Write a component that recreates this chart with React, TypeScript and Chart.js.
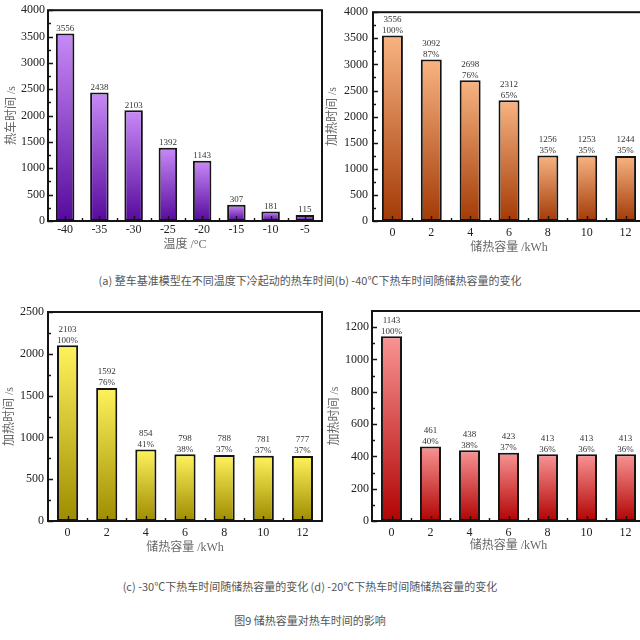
import React, { useEffect, useRef } from "react";
import { Chart, registerables } from "chart.js";

Chart.register(...registerables);

// Warm-up time of the baseline vehicle at different ambient temperatures
const tempCategories = ["-40", "-35", "-30", "-25", "-20", "-15", "-10", "-5"];
const warmupByTemp = [3556, 2438, 2103, 1392, 1143, 307, 181, 115];

// Heat storage capacity (kWh)
const storageCapacity = ["0", "2", "4", "6", "8", "10", "12"];

// -40°C: warm-up time and share of the no-storage case
const warmupMinus40 = [3556, 3092, 2698, 2312, 1256, 1253, 1244];
const shareMinus40 = [100, 87, 76, 65, 35, 35, 35];

// -30°C
const warmupMinus30 = [2103, 1592, 854, 798, 788, 781, 777];
const shareMinus30 = [100, 76, 41, 38, 37, 37, 37];

// -20°C
const warmupMinus20 = [1143, 461, 438, 423, 413, 413, 413];
const shareMinus20 = [100, 40, 38, 37, 36, 36, 36];

// Y-axis tick values
const ticksTo4000 = [0, 500, 1000, 1500, 2000, 2500, 3000, 3500, 4000];
const ticksTo2500 = [0, 500, 1000, 1500, 2000, 2500];
const ticksTo1200 = [0, 200, 400, 600, 800, 1000, 1200];

const SERIF = '"Liberation Serif", "Times New Roman", "Noto Sans CJK SC", serif';
const CAPTION_FONT = '"Noto Sans CJK SC", "Noto Sans", sans-serif';

type Plot = { left: number; top: number; right: number; bottom: number };

type PanelProps = {
  left: number;
  top: number;
  width: number;
  height: number;
  plot: Plot;
  categories: string[];
  values: number[];
  shares?: number[];
  yMax: number;
  yTicks: number[];
  colorTop: string;
  colorBottom: string;
  yTitle: string;
  xTitle: string;
  yTitlePad: number;
  xTitlePad: number;
  xTickPad: number;
  yTickPad: number;
};

function BarPanel(p: PanelProps) {
  const ref = useRef<HTMLCanvasElement | null>(null);

  useEffect(() => {
    if (!ref.current) return;

    const decor = {
      id: "panelDecor",
      afterDatasetsDraw(chart: any) {
        const { ctx, chartArea: a, scales } = chart;
        const xs = scales.x;
        const ys = scales.y;
        ctx.save();
        ctx.strokeStyle = "#141414";
        ctx.lineWidth = 1.4;
        ctx.beginPath();
        // y major / minor ticks, pointing into the plot
        const yt = p.yTicks;
        for (let i = 0; i < yt.length; i++) {
          const py = Math.round(ys.getPixelForValue(yt[i])) + 0.5;
          ctx.moveTo(a.left, py);
          ctx.lineTo(a.left + 5, py);
          if (i < yt.length - 1) {
            const mv = (yt[i] + yt[i + 1]) / 2;
            const my = Math.round(ys.getPixelForValue(mv)) + 0.5;
            ctx.moveTo(a.left, my);
            ctx.lineTo(a.left + 3, my);
          }
        }
        // x major ticks at category centres, minor ticks between them
        const n = p.categories.length;
        for (let i = 0; i < n; i++) {
          const px = Math.round(xs.getPixelForValue(i)) + 0.5;
          ctx.moveTo(px, a.bottom);
          ctx.lineTo(px, a.bottom - 5);
          if (i < n - 1) {
            const mx = Math.round((xs.getPixelForValue(i) + xs.getPixelForValue(i + 1)) / 2) + 0.5;
            ctx.moveTo(mx, a.bottom);
            ctx.lineTo(mx, a.bottom - 3);
          }
        }
        ctx.stroke();

        // plot frame
        ctx.lineWidth = 2;
        ctx.strokeRect(a.left, a.top, a.right - a.left, a.bottom - a.top);

        // value labels above each bar
        const meta = chart.getDatasetMeta(0);
        ctx.fillStyle = "#333";
        ctx.font = `9px ${SERIF}`;
        ctx.textAlign = "center";
        ctx.textBaseline = "middle";
        meta.data.forEach((bar: any, i: number) => {
          if (p.shares) {
            ctx.fillText(String(p.values[i]), bar.x, bar.y - 16);
            ctx.fillText(`${p.shares[i]}%`, bar.x, bar.y - 5);
          } else {
            ctx.fillText(String(p.values[i]), bar.x, bar.y - 5);
          }
        });
        ctx.restore();
      },
    };

    const barFill = (c: any) => {
      const chart = c.chart;
      if (!chart.chartArea || c.type !== "data") return p.colorTop;
      const ys = chart.scales.y;
      const y0 = ys.getPixelForValue(0);
      const y1 = ys.getPixelForValue(p.values[c.dataIndex]);
      const g = chart.ctx.createLinearGradient(0, y1, 0, y0);
      g.addColorStop(0, p.colorTop);
      g.addColorStop(1, p.colorBottom);
      return g;
    };

    const chart = new Chart(ref.current, {
      type: "bar",
      data: {
        labels: p.categories,
        datasets: [
          {
            data: p.values,
            backgroundColor: barFill,
            borderColor: "#141414",
            borderWidth: 2,
            borderSkipped: false,
            barPercentage: 0.54,
            categoryPercentage: 1,
          },
        ],
      },
      options: {
        responsive: false,
        animation: false,
        devicePixelRatio: 1,
        layout: {
          padding: { top: p.plot.top, right: p.width - p.plot.right, left: 0, bottom: 0 },
        },
        plugins: {
          legend: { display: false },
          tooltip: { enabled: false },
          title: { display: false },
        },
        scales: {
          x: {
            type: "category",
            offset: true,
            grid: { display: false, drawTicks: false },
            border: { display: false },
            ticks: {
              color: "#222",
              font: { family: SERIF, size: 12 },
              padding: p.xTickPad,
              maxRotation: 0,
              autoSkip: false,
            },
            title: {
              display: true,
              text: p.xTitle,
              color: "#666",
              font: { family: SERIF, size: 12 },
              padding: { top: 0, bottom: p.xTitlePad },
            },
            afterFit: (s: any) => {
              s.height = p.height - p.plot.bottom;
            },
          },
          y: {
            min: 0,
            max: p.yMax,
            grid: { display: false, drawTicks: false },
            border: { display: false },
            ticks: {
              color: "#222",
              font: { family: SERIF, size: 12 },
              padding: p.yTickPad,
              callback: (v: any) => String(v),
            },
            afterBuildTicks: (s: any) => {
              s.ticks = p.yTicks.map((v) => ({ value: v }));
            },
            title: {
              display: true,
              text: p.yTitle,
              color: "#666",
              font: { family: SERIF, size: 12 },
              padding: { top: p.yTitlePad, bottom: 0 },
            },
            afterFit: (s: any) => {
              s.width = p.plot.left;
            },
          },
        },
      },
      plugins: [decor],
    } as any);

    return () => chart.destroy();
  }, []);

  return (
    <canvas
      ref={ref}
      width={p.width}
      height={p.height}
      style={{ position: "absolute", left: p.left, top: p.top, width: p.width, height: p.height }}
    />
  );
}

const captionStyle = (top: number): React.CSSProperties => ({
  position: "absolute",
  left: 0,
  width: 620,
  top,
  textAlign: "center",
  fontFamily: CAPTION_FONT,
  fontSize: 11,
  lineHeight: "14px",
  color: "#555",
  whiteSpace: "nowrap",
});

export default function App() {
  return (
    <div
      style={{
        position: "fixed",
        left: 0,
        top: 0,
        width: 640,
        height: 640,
        overflow: "hidden",
        background: "#fff",
      }}
    >
      <BarPanel
        left={0}
        top={0}
        width={324}
        height={256}
        plot={{ left: 48, top: 8, right: 322, bottom: 221 }}
        categories={tempCategories}
        values={warmupByTemp}
        yMax={4000}
        yTicks={ticksTo4000}
        colorTop="#c88af8"
        colorBottom="#560a9c"
        yTitle="热车时间 /s"
        xTitle="温度 /°C"
        yTitlePad={5}
        xTitlePad={4}
        xTickPad={2}
        yTickPad={3}
      />
      <BarPanel
        left={322}
        top={0}
        width={330}
        height={256}
        plot={{ left: 51, top: 12, right: 323, bottom: 221 }}
        categories={storageCapacity}
        values={warmupMinus40}
        shares={shareMinus40}
        yMax={4000}
        yTicks={ticksTo4000}
        colorTop="#f8b482"
        colorBottom="#a33a06"
        yTitle="加热时间 /s"
        xTitle="储热容量 /kWh"
        yTitlePad={4}
        xTitlePad={1}
        xTickPad={5}
        yTickPad={5}
      />
      <BarPanel
        left={0}
        top={296}
        width={324}
        height={264}
        plot={{ left: 48, top: 16, right: 322, bottom: 225 }}
        categories={storageCapacity}
        values={warmupMinus30}
        shares={shareMinus30}
        yMax={2500}
        yTicks={ticksTo2500}
        colorTop="#fff35c"
        colorBottom="#9e8c00"
        yTitle="加热时间 /s"
        xTitle="储热容量 /kWh"
        yTitlePad={3}
        xTitlePad={5}
        xTickPad={5}
        yTickPad={4}
      />
      <BarPanel
        left={322}
        top={296}
        width={330}
        height={264}
        plot={{ left: 50, top: 15, right: 323, bottom: 225 }}
        categories={storageCapacity}
        values={warmupMinus20}
        shares={shareMinus20}
        yMax={1300}
        yTicks={ticksTo1200}
        colorTop="#f99494"
        colorBottom="#b20303"
        yTitle="加热时间 /s"
        xTitle="储热容量 /kWh"
        yTitlePad={6}
        xTitlePad={7}
        xTickPad={5}
        yTickPad={3}
      />
      <div style={captionStyle(273)}>
        (a) 整车基准模型在不同温度下冷起动的热车时间(b) -40℃下热车时间随储热容量的变化
      </div>
      <div style={captionStyle(579)}>
        (c) -30℃下热车时间随储热容量的变化 (d) -20℃下热车时间随储热容量的变化
      </div>
      <div style={captionStyle(613)}>图9 储热容量对热车时间的影响</div>
    </div>
  );
}
